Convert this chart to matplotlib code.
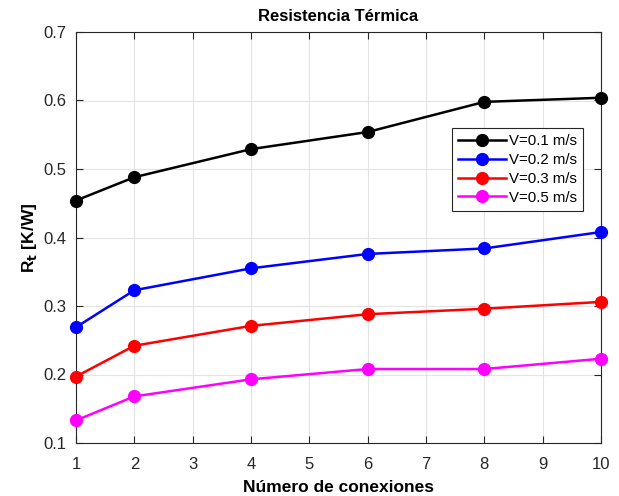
import matplotlib
matplotlib.use("Agg")
import matplotlib.pyplot as plt
from matplotlib.ticker import MultipleLocator

plt.rcParams['font.family'] = ['Liberation Sans', 'DejaVu Sans']

conexiones = [1, 2, 4, 6, 8, 10]
r_v01 = [0.454, 0.488, 0.529, 0.554, 0.598, 0.604]
r_v02 = [0.269, 0.323, 0.355, 0.376, 0.384, 0.408]
r_v03 = [0.197, 0.242, 0.271, 0.288, 0.296, 0.306]
r_v05 = [0.133, 0.168, 0.193, 0.208, 0.208, 0.223]
etiquetas = ['V=0.1 m/s', 'V=0.2 m/s', 'V=0.3 m/s', 'V=0.5 m/s']
colores = ['black', 'blue', 'red', 'magenta']

W, H = 619, 496
fig = plt.figure(figsize=(W / 100, H / 100), dpi=100)
ax = fig.add_axes([76 / W, 1 - 443 / H, (601 - 76) / W, (443 - 32) / H])

for serie, color, etiqueta in zip([r_v01, r_v02, r_v03, r_v05], colores, etiquetas):
    ax.plot(conexiones, serie, '-o', color=color, lw=1.8, ms=8.5, label=etiqueta,
            clip_on=False, zorder=3)

ax.set_xlim(1, 10)
ax.set_ylim(0.1, 0.7)
ax.xaxis.set_major_locator(MultipleLocator(1))
ax.yaxis.set_major_locator(MultipleLocator(0.1))
ax.grid(True, color='#e3e3e3', lw=0.8)
ax.set_axisbelow(True)

axis_col = '#262626'
for s in ax.spines.values():
    s.set_color(axis_col)
    s.set_linewidth(0.8)
ax.tick_params(direction='in', length=5, width=0.8, colors=axis_col,
               top=True, right=True, labelsize=12)
ax.tick_params(axis='x', pad=10)
ax.tick_params(axis='y', pad=7)

ax.set_title('Resistencia Térmica', fontsize=12, fontweight='bold', pad=8)
ax.set_xlabel('Número de conexiones', fontsize=12.5, fontweight='bold', labelpad=6)
ax.set_ylabel(r'R$_\mathbf{t}$ [K/W]', fontsize=12.5, fontweight='bold', labelpad=3)

leg = ax.legend(loc='upper right', bbox_to_anchor=(0.966, 0.766), fontsize=10.8,
                fancybox=False, framealpha=1, edgecolor=axis_col,
                handlelength=3.2, handletextpad=0.2, borderpad=0.4,
                labelspacing=0.32, borderaxespad=0)
leg.get_frame().set_linewidth(0.8)

fig.savefig('out.png', dpi=100)
